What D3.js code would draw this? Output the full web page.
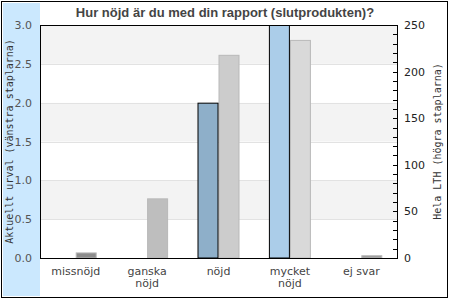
<!DOCTYPE html>
<html>
<head>
  <meta charset="utf-8">
  <title>Hur nöjd</title>
  <script src="https://d3js.org/d3.v7.min.js"></script>
  <style>
    body { margin: 0; padding: 0; background: white; }
    svg { display: block; }
    .tick-label { font-family: "DejaVu Sans", sans-serif; font-size: 11px; fill: #555; }
    .axis-title { font-family: "DejaVu Sans Mono", monospace; font-size: 10px; fill: #333; }
    .cat-label { font-family: "DejaVu Sans", sans-serif; font-size: 11px; fill: #444; }
  </style>
</head>
<body>
<div id="chart"></div>
<script>
  // data
  var categories = ["missnöjd", "ganska nöjd", "nöjd", "mycket nöjd", "ej svar"];
  var catLines = [["missnöjd"], ["ganska", "nöjd"], ["nöjd"], ["mycket", "nöjd"], ["ej svar"]];
  var leftValues = [0, 0, 2, 3, 0];        // Aktuellt urval
  var rightValues = [6, 64, 218, 234, 3];  // Hela LTH
  var leftTicks = [0, 0.5, 1, 1.5, 2, 2.5, 3];
  var rightTicks = [0, 50, 100, 150, 200, 250];

  var leftColors = ["#7f9fb9", "#9dbdd7", "#8eafc9", "#abcde9", "#9dbdd7"];
  var rightColors = ["#8c8c8c", "#bebebe", "#cccccc", "#d9d9d9", "#999999"];

  var width = 450, height = 300;
  var plot = { left: 40, right: 397, top: 25, bottom: 258 };

  var svg = d3.select("#chart").append("svg")
    .attr("width", width).attr("height", height);

  // outer frame + blue side panel
  svg.append("rect").attr("x", 1.5).attr("y", 1.5).attr("width", 446).attr("height", 296)
    .attr("fill", "white").attr("stroke", "#000").attr("stroke-width", 1);
  svg.append("rect").attr("x", 3).attr("y", 3).attr("width", 37).attr("height", 293)
    .attr("fill", "#cbe8fe");

  var x = d3.scaleBand().domain(categories).range([plot.left, plot.right]).padding(0);
  var sub = d3.scaleBand().domain(["left", "right"]).range([0, x.bandwidth()])
    .paddingInner(0).paddingOuter(0.7);
  var yL = d3.scaleLinear().domain([0, 3]).range([plot.bottom, plot.top]);
  var yR = d3.scaleLinear().domain([0, 250]).range([plot.bottom, plot.top]);

  // alternating bands
  var bands = d3.range(0, 3, 0.5);
  svg.selectAll(".band").data(bands).enter().append("rect")
    .attr("x", plot.left).attr("width", plot.right - plot.left)
    .attr("y", function(d) { return yL(d + 0.5); })
    .attr("height", function(d) { return yL(d) - yL(d + 0.5); })
    .attr("fill", function(d, i) { return i % 2 ? "#f3f3f3" : "#ffffff"; });

  // grid lines
  svg.selectAll(".grid").data(leftTicks.slice(1, -1)).enter().append("line")
    .attr("x1", plot.left).attr("x2", plot.right)
    .attr("y1", function(d) { return Math.round(yL(d)) + 0.5; })
    .attr("y2", function(d) { return Math.round(yL(d)) + 0.5; })
    .attr("stroke", "#e2e2e2");

  // bars
  var groups = svg.selectAll(".cat").data(categories).enter().append("g")
    .attr("transform", function(d) { return "translate(" + x(d) + ",0)"; });

  groups.append("rect")
    .attr("x", sub("right") + 0.5)
    .attr("width", sub.bandwidth() - 1)
    .attr("y", function(d, i) { return yR(rightValues[i]) + 0.5; })
    .attr("height", function(d, i) { return Math.max(0, yR(0) - yR(rightValues[i]) - 0.5); })
    .attr("fill", function(d, i) { return rightColors[i]; })
    .attr("stroke", "#b9b9b9").attr("stroke-width", 1)
    .style("display", function(d, i) { return rightValues[i] > 0 ? null : "none"; });

  groups.append("rect")
    .attr("x", sub("left") + 0.5)
    .attr("width", sub.bandwidth() - 1)
    .attr("y", function(d, i) { return yL(leftValues[i]) + 0.5; })
    .attr("height", function(d, i) { return Math.max(0, yL(0) - yL(leftValues[i]) - 0.5); })
    .attr("fill", function(d, i) { return leftColors[i]; })
    .attr("stroke", "#000").attr("stroke-width", 1)
    .style("display", function(d, i) { return leftValues[i] > 0 ? null : "none"; });

  // plot frame
  svg.append("rect")
    .attr("x", plot.left + 0.5).attr("y", plot.top + 0.5)
    .attr("width", plot.right - plot.left).attr("height", plot.bottom - plot.top)
    .attr("fill", "none").attr("stroke", "#000");

  // right minor ticks (inward)
  svg.selectAll(".rtick").data(d3.range(10, 250, 10)).enter().append("line")
    .attr("x1", plot.right - 4).attr("x2", plot.right)
    .attr("y1", function(d) { return Math.round(yR(d)) + 0.5; })
    .attr("y2", function(d) { return Math.round(yR(d)) + 0.5; })
    .attr("stroke", "#000");

  // left tick labels
  svg.selectAll(".ltl").data(leftTicks).enter().append("text")
    .attr("class", "tick-label")
    .attr("x", 32).attr("y", function(d) { return yL(d) + 4; })
    .attr("text-anchor", "end")
    .text(function(d) { return d3.format(".1f")(d); });

  // right tick labels
  svg.selectAll(".rtl").data(rightTicks).enter().append("text")
    .attr("class", "tick-label")
    .attr("x", 404).attr("y", function(d) { return yR(d) + 4; })
    .style("fill", "#222")
    .text(function(d) { return d; });

  // axis titles
  svg.append("text").attr("class", "axis-title")
    .attr("transform", "translate(13," + ((plot.top + plot.bottom) / 2) + ") rotate(-90)")
    .attr("text-anchor", "middle")
    .text("Aktuellt urval (vänstra staplarna)");
  svg.append("text").attr("class", "axis-title")
    .attr("transform", "translate(441," + ((plot.top + plot.bottom) / 2) + ") rotate(-90)")
    .attr("text-anchor", "middle")
    .text("Hela LTH (högra staplarna)");

  // category labels
  var cl = svg.selectAll(".cl").data(categories).enter().append("text")
    .attr("class", "cat-label")
    .attr("text-anchor", "middle")
    .attr("transform", function(d) { return "translate(" + (x(d) + x.bandwidth() / 2) + ",275)"; });
  cl.selectAll("tspan").data(function(d, i) { return catLines[i]; }).enter().append("tspan")
    .attr("x", 0).attr("dy", function(d, i) { return i ? 12 : 0; })
    .text(function(d) { return d; });

  // title
  svg.append("text")
    .attr("x", 225).attr("y", 17)
    .attr("text-anchor", "middle")
    .style("font-family", "'Liberation Sans', Arial, sans-serif")
    .style("font-weight", "bold").style("font-size", "13px")
    .style("fill", "#444")
    .text("Hur nöjd är du med din rapport (slutprodukten)?");
</script>
</body>
</html>
